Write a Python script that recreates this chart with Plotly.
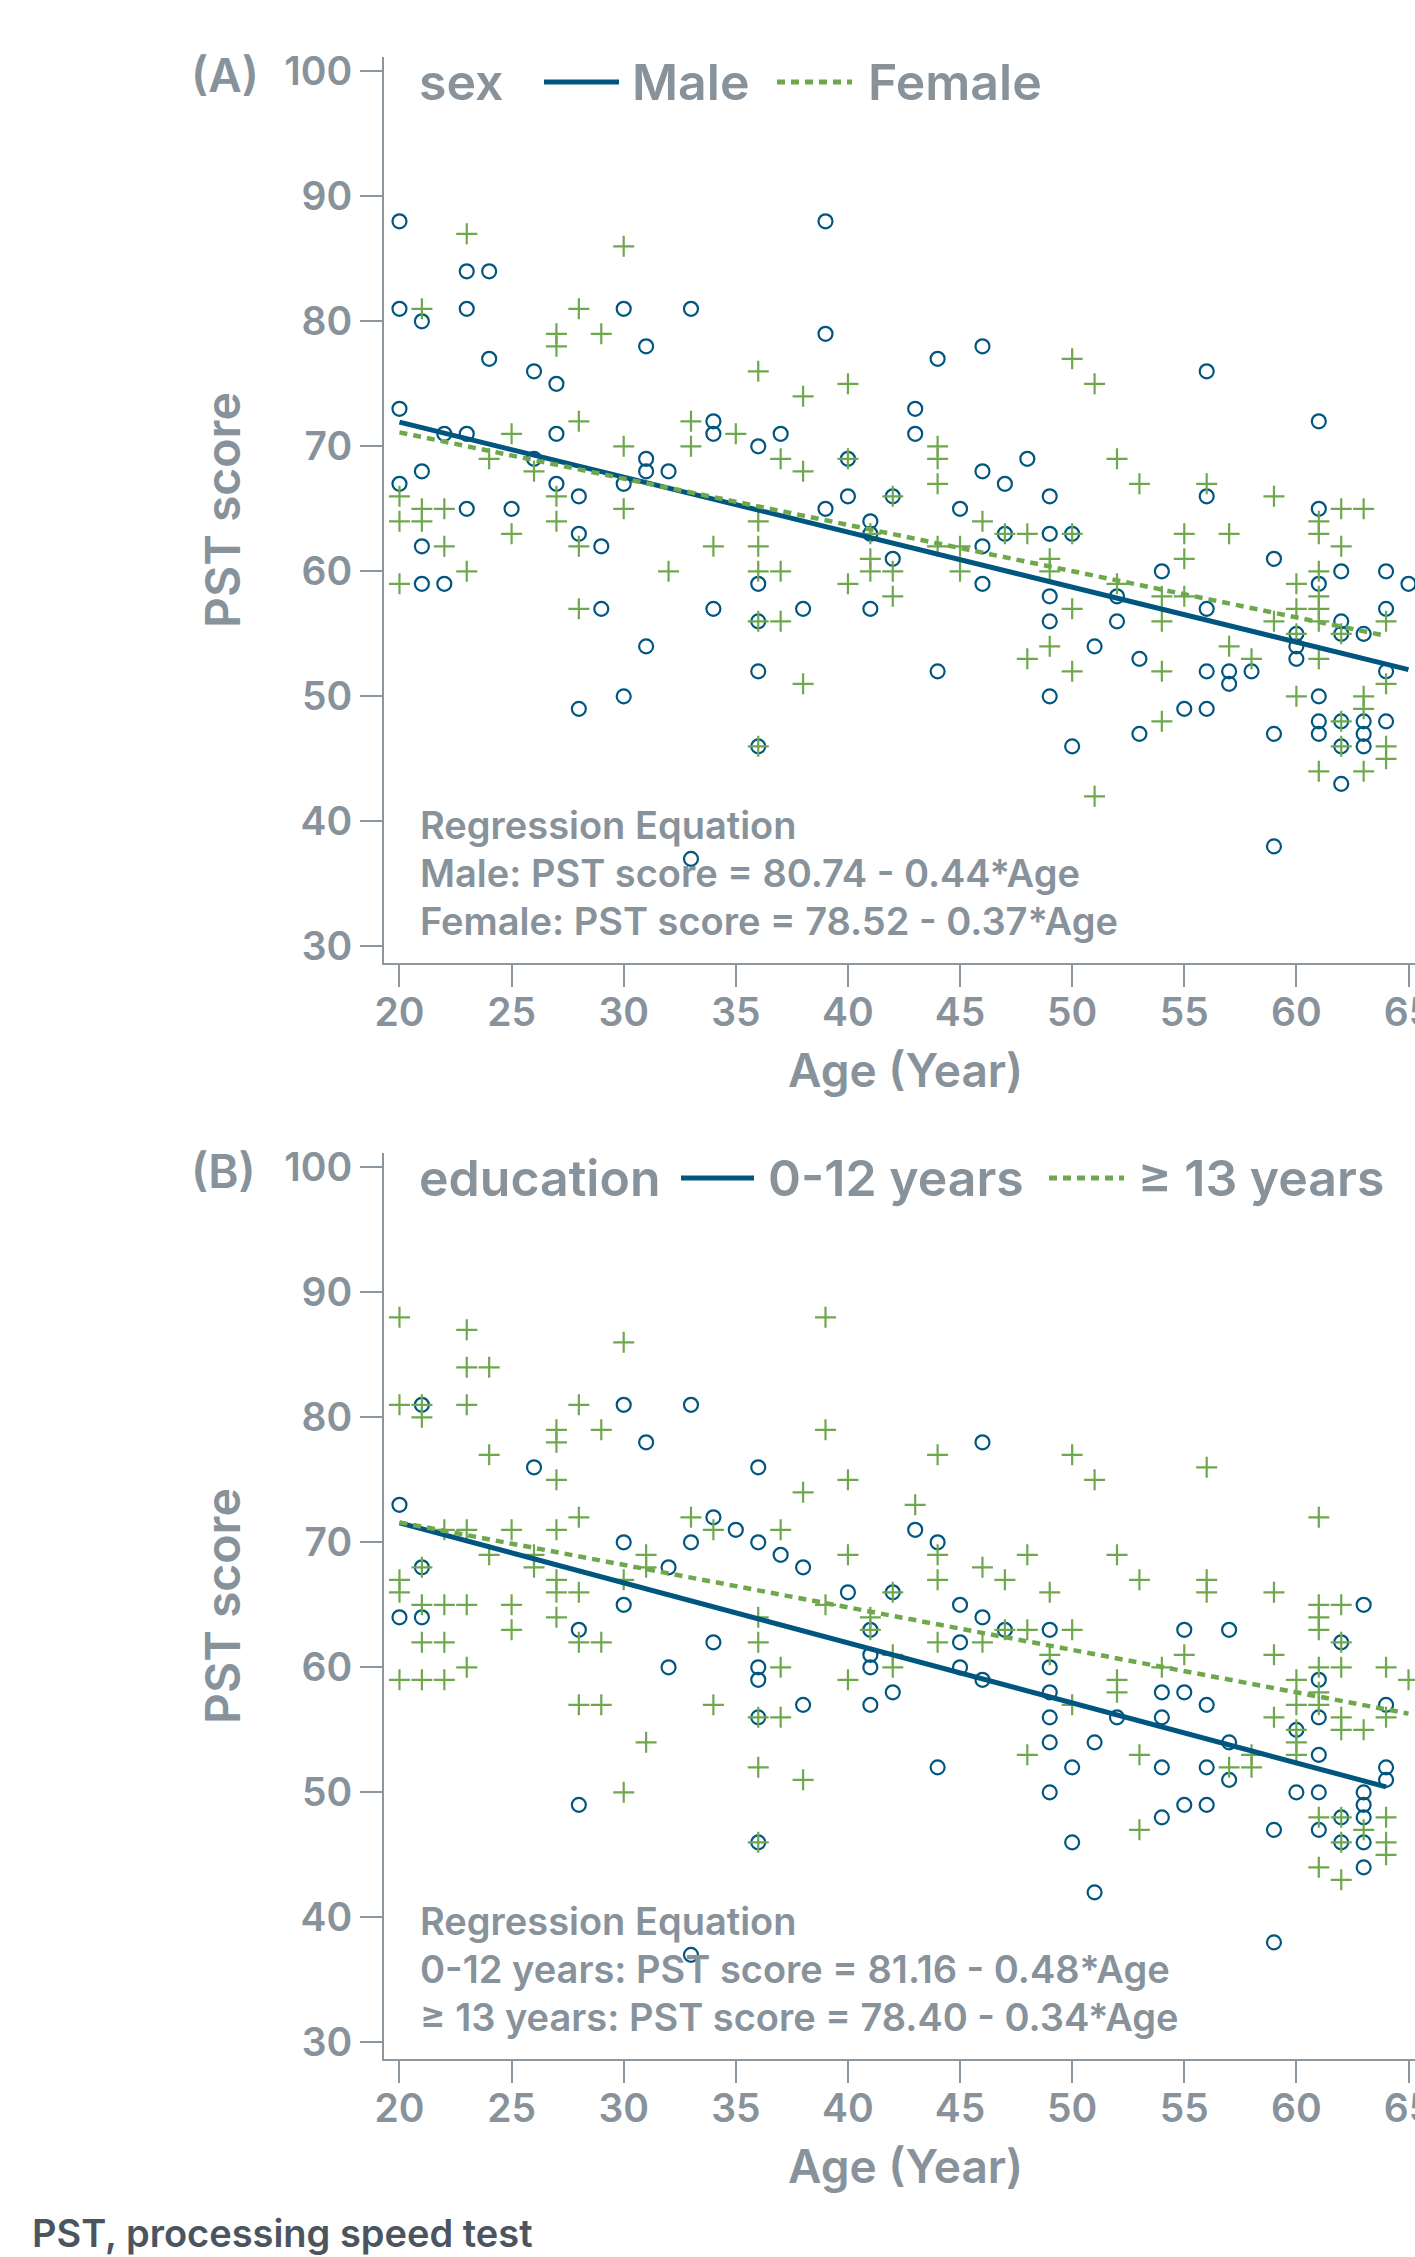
import numpy as np
import plotly.graph_objects as go

W, H = 1415, 2257

# ---------------- Panel A: by sex ----------------
male_age = [20, 20, 20, 20, 21, 21, 21, 21, 22, 22, 23, 23, 23, 23, 24, 24, 25, 26, 26,
            27, 27, 27, 28, 28, 28, 29, 29, 30, 30, 30, 31, 31, 31, 31, 32, 33, 33,
            34, 34, 34, 36, 36, 36, 36, 36, 37, 38, 39, 39, 39, 40, 40, 41, 41, 41,
            42, 42, 43, 43, 44, 44, 45, 46, 46, 46, 46, 47, 47, 48, 49, 49, 49, 49, 49,
            50, 50, 51, 52, 52, 53, 53, 54, 55, 56, 56, 56, 56, 56, 57, 57, 58,
            59, 59, 59, 60, 60, 60, 61, 61, 61, 61, 61, 61, 62, 62, 62, 62, 62, 62,
            63, 63, 63, 63, 64, 64, 64, 64, 65]
male_pst = [88, 81, 73, 67, 80, 68, 62, 59, 71, 59, 84, 81, 71, 65, 84, 77, 65, 76, 69,
            75, 71, 67, 66, 63, 49, 62, 57, 81, 67, 50, 78, 69, 68, 54, 68, 81, 37,
            72, 71, 57, 70, 59, 56, 52, 46, 71, 57, 88, 79, 65, 69, 66, 64, 63, 57,
            66, 61, 73, 71, 77, 52, 65, 78, 68, 62, 59, 67, 63, 69, 66, 63, 58, 56, 50,
            63, 46, 54, 58, 56, 53, 47, 60, 49, 76, 66, 57, 52, 49, 52, 51, 52,
            61, 47, 38, 55, 54, 53, 72, 65, 59, 50, 48, 47, 60, 56, 55, 48, 46, 43,
            55, 48, 47, 46, 60, 57, 52, 48, 59]

female_age = [20, 20, 20, 21, 21, 21, 22, 22, 23, 23, 24, 25, 25, 26, 27, 27, 27, 27,
              28, 28, 28, 28, 29, 30, 30, 30, 32, 33, 33, 34, 35, 36, 36, 36, 36, 36, 36,
              37, 37, 37, 38, 38, 38, 40, 40, 40, 41, 41, 41, 42, 42, 42, 44, 44, 44, 44,
              45, 45, 46, 47, 48, 48, 49, 49, 49, 50, 50, 50, 50, 51, 51, 52, 52, 53,
              54, 54, 54, 54, 55, 55, 55, 56, 57, 57, 58, 59, 59, 60, 60, 60, 60,
              61, 61, 61, 61, 61, 61, 61, 61, 62, 62, 62, 62, 62, 63, 63, 63, 63,
              64, 64, 64, 64]
female_pst = [66, 64, 59, 81, 65, 64, 65, 62, 87, 60, 69, 71, 63, 68, 79, 78, 66, 64,
              81, 72, 62, 57, 79, 86, 70, 65, 60, 72, 70, 62, 71, 76, 64, 62, 60, 56, 46,
              69, 60, 56, 74, 68, 51, 75, 69, 59, 63, 61, 60, 66, 60, 58, 70, 69, 67, 62,
              62, 60, 64, 63, 63, 53, 61, 60, 54, 77, 63, 57, 52, 75, 42, 69, 59, 67,
              58, 56, 52, 48, 63, 61, 58, 67, 63, 54, 53, 66, 56, 59, 57, 55, 50,
              64, 63, 60, 58, 57, 56, 53, 44, 65, 62, 55, 48, 46, 65, 50, 49, 44,
              56, 51, 46, 45]

# ---------------- Panel B: by education ----------------
edu_low_age = [20, 20, 21, 21, 21, 26, 28, 28, 30, 30, 30, 31, 32, 32, 33, 33, 33, 34, 34,
               35, 36, 36, 36, 36, 36, 36, 37, 38, 38, 40, 41, 41, 41, 41, 42, 42, 43,
               44, 44, 45, 45, 45, 46, 46, 46, 47, 49, 49, 49, 49, 49, 49, 50, 50, 51, 51,
               52, 54, 54, 54, 54, 55, 55, 55, 56, 56, 56, 57, 57, 57, 59, 59, 60, 60,
               61, 61, 61, 61, 61, 62, 62, 62, 63, 63, 63, 63, 63, 63, 64, 64, 64]
edu_low_pst = [73, 64, 81, 68, 64, 76, 63, 49, 81, 70, 65, 78, 68, 60, 81, 70, 37, 72, 62,
               71, 76, 70, 60, 59, 56, 46, 69, 68, 57, 66, 63, 61, 60, 57, 66, 58, 71,
               70, 52, 65, 62, 60, 78, 64, 59, 63, 63, 60, 58, 56, 54, 50, 52, 46, 54, 42,
               56, 58, 56, 52, 48, 63, 58, 49, 57, 52, 49, 63, 54, 51, 47, 38, 55, 50,
               59, 56, 53, 50, 47, 62, 48, 46, 65, 50, 49, 48, 46, 44, 57, 52, 51]

edu_high_age = [20, 20, 20, 20, 20, 21, 21, 21, 21, 21, 21, 22, 22, 22, 22,
                23, 23, 23, 23, 23, 23, 24, 24, 24, 25, 25, 25, 26, 26,
                27, 27, 27, 27, 27, 27, 27, 28, 28, 28, 28, 28, 29, 29, 29,
                30, 30, 30, 31, 31, 31, 33, 34, 34, 36, 36, 36, 36, 36, 37, 37, 37,
                38, 38, 39, 39, 39, 40, 40, 40, 41, 41, 42, 42, 42, 43, 44, 44, 44, 44,
                46, 46, 47, 47, 48, 48, 48, 49, 49, 50, 50, 50, 51, 52, 52, 52,
                53, 53, 53, 54, 55, 56, 56, 56, 57, 58, 58, 59, 59, 59,
                60, 60, 60, 60, 60, 61, 61, 61, 61, 61, 61, 61, 61, 61,
                62, 62, 62, 62, 62, 62, 62, 62, 63, 63, 64, 64, 64, 64, 64, 65]
edu_high_pst = [88, 81, 67, 66, 59, 81, 80, 68, 65, 62, 59, 71, 65, 62, 59,
                87, 84, 81, 71, 65, 60, 84, 77, 69, 71, 65, 63, 69, 68,
                79, 78, 75, 71, 67, 66, 64, 81, 72, 66, 62, 57, 79, 62, 57,
                86, 67, 50, 69, 68, 54, 72, 71, 57, 64, 62, 56, 52, 46, 71, 60, 56,
                74, 51, 88, 79, 65, 75, 69, 59, 64, 63, 66, 61, 60, 73, 77, 69, 67, 62,
                68, 62, 67, 63, 69, 63, 53, 66, 61, 77, 63, 57, 75, 69, 59, 58,
                67, 53, 47, 60, 61, 76, 67, 66, 52, 53, 52, 66, 61, 56,
                59, 57, 55, 54, 53, 72, 65, 64, 63, 60, 58, 57, 48, 44,
                65, 62, 60, 56, 55, 48, 46, 43, 55, 47, 60, 56, 48, 46, 45, 59]

# Regression equations (intercept, slope) as printed on the chart
reg_male = (80.74, -0.44)
reg_female = (78.52, -0.37)
reg_low = (81.16, -0.48)
reg_high = (78.40, -0.34)

x_ticks = [20, 25, 30, 35, 40, 45, 50, 55, 60, 65]
y_ticks = [30, 40, 50, 60, 70, 80, 90, 100]

# ---------------- styling ----------------
NAVY = "#00567f"
GREEN = "#6fa84c"
GRAY = "#87929b"
AXIS = "#8c969f"
DARK = "#4b5560"
FONT = "Inter"
WEIGHT = 600
DOTS = "8px,6px"

def px_x(px):
    return px / W

def px_y(py):
    return 1 - py / H

fig = go.Figure()

def add_panel(xa, ya, a_age, a_pst, b_age, b_pst, reg_a, reg_b):
    fig.add_trace(go.Scatter(
        x=a_age, y=a_pst, mode="markers", xaxis=xa, yaxis=ya, showlegend=False,
        marker=dict(symbol="circle-open", size=14, color=NAVY,
                    line=dict(width=2.2, color=NAVY))))
    fig.add_trace(go.Scatter(
        x=b_age, y=b_pst, mode="markers", xaxis=xa, yaxis=ya, showlegend=False,
        marker=dict(symbol="cross-thin-open", size=15, color=GREEN,
                    line=dict(width=2.2, color=GREEN))))
    xa_line = np.array([min(a_age), max(a_age)], dtype=float)
    xb_line = np.array([min(b_age), max(b_age)], dtype=float)
    fig.add_trace(go.Scatter(
        x=xa_line, y=reg_a[0] + reg_a[1] * xa_line, mode="lines",
        xaxis=xa, yaxis=ya, showlegend=False,
        line=dict(color=NAVY, width=5)))
    fig.add_trace(go.Scatter(
        x=xb_line, y=reg_b[0] + reg_b[1] * xb_line, mode="lines",
        xaxis=xa, yaxis=ya, showlegend=False,
        line=dict(color=GREEN, width=4.5, dash=DOTS)))

add_panel("x", "y", male_age, male_pst, female_age, female_pst, reg_male, reg_female)
add_panel("x2", "y2", edu_low_age, edu_low_pst, edu_high_age, edu_high_pst, reg_low, reg_high)

axis_common = dict(
    showline=True, linecolor=AXIS, linewidth=2, mirror=False,
    ticks="outside", ticklen=22, tickwidth=2, tickcolor=AXIS,
    showgrid=False, zeroline=False, automargin=False,
    ticklabeloverflow="allow",
    tickfont=dict(family=FONT, size=39, color=GRAY, weight=WEIGHT),
)

x_range = [19.31, 65.29]
y_range = [28.67, 101.17]

A_TOP, A_BOT = 56.7, 963.0
OFF = 1096.0
fig.update_layout(
    width=W, height=H, autosize=False,
    margin=dict(l=0, r=0, t=0, b=0, pad=0),
    paper_bgcolor="white", plot_bgcolor="white",
    xaxis=dict(domain=[px_x(384), 1], range=x_range, anchor="y",
               tickvals=x_ticks, ticklabelstandoff=-8, **axis_common),
    yaxis=dict(domain=[px_y(A_BOT), px_y(A_TOP)], range=y_range, anchor="x",
               tickvals=y_ticks, **axis_common),
    xaxis2=dict(domain=[px_x(384), 1], range=x_range, anchor="y2",
                tickvals=x_ticks, ticklabelstandoff=-8, **axis_common),
    yaxis2=dict(domain=[px_y(A_BOT + OFF), px_y(A_TOP + OFF)], range=y_range, anchor="x2",
                tickvals=y_ticks, **axis_common),
)

annotations = []
shapes = []

def text(x, y, s, size, color=GRAY, xanchor="left", angle=0):
    annotations.append(dict(
        xref="paper", yref="paper", x=px_x(x), y=px_y(y), text=s,
        showarrow=False, xanchor=xanchor, yanchor="middle", textangle=angle,
        font=dict(family=FONT, size=size, color=color, weight=WEIGHT)))

def legend_line(x0, x1, y, color, dash):
    shapes.append(dict(type="line", xref="paper", yref="paper",
                       x0=px_x(x0), x1=px_x(x1), y0=px_y(y), y1=px_y(y),
                       line=dict(color=color, width=5, dash=dash)))

for k, (tag, ltitle, n1, n2, eq1, eq2, lay) in enumerate([
    ("(A)", "sex", "Male", "Female",
     "Male: PST score = 80.74 - 0.44*Age",
     "Female: PST score = 78.52 - 0.37*Age",
     dict(l1=(544, 619), t1=630, l2=(777, 852), t2=866)),
    ("(B)", "education", "0-12 years", "≥ 13 years",
     "0-12 years: PST score = 81.16 - 0.48*Age",
     "≥ 13 years: PST score = 78.40 - 0.34*Age",
     dict(l1=(681, 754), t1=766, l2=(1049, 1124), t2=1136)),
]):
    o = OFF * k
    text(189, 75 + o, tag, 46)
    ly = 82 + o
    text(417, ly, ltitle, 50)
    legend_line(lay["l1"][0], lay["l1"][1], ly, NAVY, "solid")
    text(lay["t1"], ly, n1, 50)
    legend_line(lay["l2"][0], lay["l2"][1], ly, GREEN, DOTS)
    text(lay["t2"], ly, n2, 50)
    text(418, 825 + o, "Regression Equation", 38)
    text(418, 873 + o, eq1, 38)
    text(418, 921 + o, eq2, 38)
    text(222, 510 + o, "PST score", 48, xanchor="center", angle=-90)
    text(906, 1070 + o, "Age (Year)", 46, xanchor="center")

text(30, 2233, "PST, processing speed test", 38, color=DARK)

fig.update_layout(annotations=annotations, shapes=shapes)
fig.write_html("out.html",
               config={"responsive": False},
               post_script="document.body.style.margin='0px';"
                           "document.body.style.overflow='hidden';")
